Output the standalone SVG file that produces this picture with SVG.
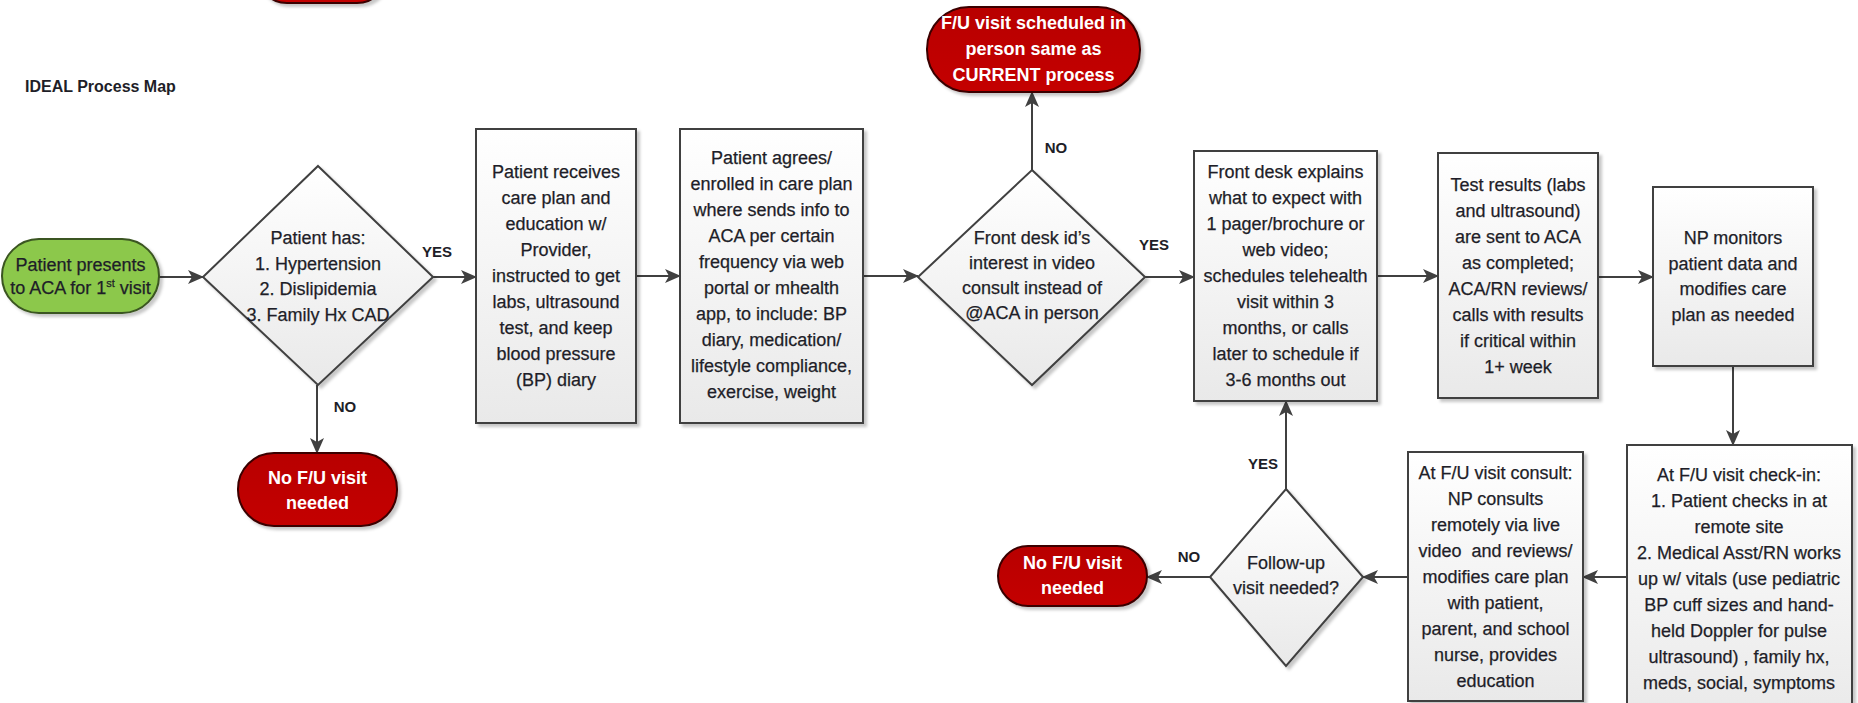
<svg xmlns="http://www.w3.org/2000/svg" width="1858" height="703" viewBox="0 0 1858 703">
<defs>
  <linearGradient id="gBox" x1="0" y1="0" x2="0" y2="1">
    <stop offset="0" stop-color="#ffffff"/>
    <stop offset="1" stop-color="#e9e9e9"/>
  </linearGradient>
  <linearGradient id="gRed" x1="0" y1="0" x2="0" y2="1">
    <stop offset="0" stop-color="#b80000"/>
    <stop offset="1" stop-color="#c40000"/>
  </linearGradient>
  <filter id="sh" x="-10%" y="-10%" width="125%" height="125%">
    <feDropShadow dx="3" dy="3" stdDeviation="1.5" flood-color="#000" flood-opacity="0.22"/>
  </filter>
  <marker id="arr" viewBox="0 0 16 14" refX="15" refY="7" markerWidth="16" markerHeight="14" markerUnits="userSpaceOnUse" orient="auto">
    <path d="M0,0 L16,7 L0,14 L4,7 Z" fill="#404040"/>
  </marker>
  <style>
    .box { fill: url(#gBox); stroke: #404040; stroke-width: 2; filter: url(#sh); }
    .red { fill: url(#gRed); stroke: #3a0000; stroke-width: 2; filter: url(#sh); }
    .green { fill: #8cc84b; stroke: #3a5520; stroke-width: 2; filter: url(#sh); }
    .t { font-family: "Liberation Sans", Arial, sans-serif; font-size: 18px; fill: #1e1e28; stroke: #1e1e28; stroke-width: 0.25; text-anchor: middle; }
    .tw { font-family: "Liberation Sans", Arial, sans-serif; font-size: 18px; font-weight: bold; fill: #ffffff; text-anchor: middle; }
    .lbl { font-family: "Liberation Sans", Arial, sans-serif; font-size: 15px; font-weight: bold; fill: #1e1e28; text-anchor: middle; }
    .title { font-family: "Liberation Sans", Arial, sans-serif; font-size: 16px; font-weight: bold; fill: #1e1e28; }
    .c { fill: none; stroke: #404040; stroke-width: 2; marker-end: url(#arr); }
  </style>
</defs>
<rect width="1858" height="703" fill="#ffffff"/>

<text class="title" x="25" y="92">IDEAL Process Map</text>

<g id="connectors">
  <line class="c" x1="159" y1="277" x2="203" y2="277"/>
  <line class="c" x1="433" y1="277" x2="476" y2="277"/>
  <line class="c" x1="317" y1="385" x2="317" y2="453"/>
  <line class="c" x1="636" y1="276" x2="680" y2="276"/>
  <line class="c" x1="863" y1="276" x2="918" y2="276"/>
  <line class="c" x1="1032" y1="170" x2="1032" y2="92"/>
  <line class="c" x1="1145" y1="277" x2="1194" y2="277"/>
  <line class="c" x1="1377" y1="276" x2="1438" y2="276"/>
  <line class="c" x1="1598" y1="277" x2="1653" y2="277"/>
  <line class="c" x1="1733" y1="366" x2="1733" y2="445"/>
  <line class="c" x1="1627" y1="577" x2="1583" y2="577"/>
  <line class="c" x1="1408" y1="577" x2="1363" y2="577"/>
  <line class="c" x1="1286" y1="489" x2="1286" y2="401"/>
  <line class="c" x1="1210" y1="577" x2="1147" y2="577"/>
  <text class="lbl" x="437" y="257">YES</text>
  <text class="lbl" x="345" y="412">NO</text>
  <text class="lbl" x="1056" y="153">NO</text>
  <text class="lbl" x="1154" y="250">YES</text>
  <text class="lbl" x="1263" y="469">YES</text>
  <text class="lbl" x="1189" y="562">NO</text>
</g>

<g id="top-partial">
  <rect class="red" x="257" y="-60" width="130" height="63" rx="30"/>
</g>

<g id="start">
  <rect class="green" x="2" y="239" width="157" height="74" rx="37"/>
  <text class="t" x="80.5" y="271">Patient presents</text>
  <text class="t" x="80.5" y="294">to ACA for 1<tspan font-size="11" dy="-7">st</tspan><tspan dy="7"> visit</tspan></text>
</g>

<g id="decision1">
  <polygon class="box" points="318,166 433,277 318,385 203,277"/>
  <text class="t" x="318" y="244">Patient has:<tspan x="318" dy="25.7">1. Hypertension</tspan><tspan x="318" dy="25.7">2. Dislipidemia</tspan><tspan x="318" dy="25.7">3. Family Hx CAD</tspan></text>
</g>

<g id="end1">
  <rect class="red" x="238" y="453" width="159" height="73" rx="36"/>
  <text class="tw" x="317.5" y="484">No F/U visit<tspan x="317.5" dy="25">needed</tspan></text>
</g>

<g id="box1">
  <rect class="box" x="476" y="129" width="160" height="294"/>
  <text class="t" x="556" y="178">Patient receives<tspan x="556" dy="26">care plan and</tspan><tspan x="556" dy="26">education w/</tspan><tspan x="556" dy="26">Provider,</tspan><tspan x="556" dy="26">instructed to get</tspan><tspan x="556" dy="26">labs, ultrasound</tspan><tspan x="556" dy="26">test, and keep</tspan><tspan x="556" dy="26">blood pressure</tspan><tspan x="556" dy="26">(BP) diary</tspan></text>
</g>

<g id="box2">
  <rect class="box" x="680" y="129" width="183" height="294"/>
  <text class="t" x="771.5" y="164">Patient agrees/<tspan x="771.5" dy="26">enrolled in care plan</tspan><tspan x="771.5" dy="26">where sends info to</tspan><tspan x="771.5" dy="26">ACA per certain</tspan><tspan x="771.5" dy="26">frequency via web</tspan><tspan x="771.5" dy="26">portal or mhealth</tspan><tspan x="771.5" dy="26">app, to include: BP</tspan><tspan x="771.5" dy="26">diary, medication/</tspan><tspan x="771.5" dy="26">lifestyle compliance,</tspan><tspan x="771.5" dy="26">exercise, weight</tspan></text>
</g>

<g id="decision2">
  <polygon class="box" points="1032,170 1145,277 1032,385 918,277"/>
  <text class="t" x="1032" y="244">Front desk id’s<tspan x="1032" dy="25">interest in video</tspan><tspan x="1032" dy="25">consult instead of</tspan><tspan x="1032" dy="25">@ACA in person</tspan></text>
</g>

<g id="end-top">
  <rect class="red" x="927" y="7" width="213" height="85" rx="42"/>
  <text class="tw" x="1033.5" y="29">F/U visit scheduled in<tspan x="1033.5" dy="26">person same as</tspan><tspan x="1033.5" dy="26">CURRENT process</tspan></text>
</g>

<g id="box3">
  <rect class="box" x="1194" y="151" width="183" height="250"/>
  <text class="t" x="1285.5" y="178">Front desk explains<tspan x="1285.5" dy="26">what to expect with</tspan><tspan x="1285.5" dy="26">1 pager/brochure or</tspan><tspan x="1285.5" dy="26">web video;</tspan><tspan x="1285.5" dy="26">schedules telehealth</tspan><tspan x="1285.5" dy="26">visit within 3</tspan><tspan x="1285.5" dy="26">months, or calls</tspan><tspan x="1285.5" dy="26">later to schedule if</tspan><tspan x="1285.5" dy="26">3-6 months out</tspan></text>
</g>

<g id="box4">
  <rect class="box" x="1438" y="153" width="160" height="245"/>
  <text class="t" x="1518" y="191">Test results (labs<tspan x="1518" dy="26">and ultrasound)</tspan><tspan x="1518" dy="26">are sent to ACA</tspan><tspan x="1518" dy="26">as completed;</tspan><tspan x="1518" dy="26">ACA/RN reviews/</tspan><tspan x="1518" dy="26">calls with results</tspan><tspan x="1518" dy="26">if critical within</tspan><tspan x="1518" dy="26">1+ week</tspan></text>
</g>

<g id="box5">
  <rect class="box" x="1653" y="187" width="160" height="179"/>
  <text class="t" x="1733" y="244">NP monitors<tspan x="1733" dy="25.7">patient data and</tspan><tspan x="1733" dy="25.7">modifies care</tspan><tspan x="1733" dy="25.7">plan as needed</tspan></text>
</g>

<g id="box6">
  <rect class="box" x="1627" y="445" width="225" height="280"/>
  <text class="t" x="1739" y="481">At F/U visit check-in:<tspan x="1739" dy="26">1. Patient checks in at</tspan><tspan x="1739" dy="26">remote site</tspan><tspan x="1739" dy="26">2. Medical Asst/RN works</tspan><tspan x="1739" dy="26">up w/ vitals (use pediatric</tspan><tspan x="1739" dy="26">BP cuff sizes and hand-</tspan><tspan x="1739" dy="26">held Doppler for pulse</tspan><tspan x="1739" dy="26">ultrasound) , family hx,</tspan><tspan x="1739" dy="26">meds, social, symptoms</tspan></text>
</g>

<g id="box7">
  <rect class="box" x="1408" y="452" width="175" height="249"/>
  <text class="t" x="1495.5" y="479" style="white-space:pre">At F/U visit consult:<tspan x="1495.5" dy="26">NP consults</tspan><tspan x="1495.5" dy="26">remotely via live</tspan><tspan x="1495.5" dy="26">video  and reviews/</tspan><tspan x="1495.5" dy="26">modifies care plan</tspan><tspan x="1495.5" dy="26">with patient,</tspan><tspan x="1495.5" dy="26">parent, and school</tspan><tspan x="1495.5" dy="26">nurse, provides</tspan><tspan x="1495.5" dy="26">education</tspan></text>
</g>

<g id="decision3">
  <polygon class="box" points="1286,489 1363,577 1286,666 1210,577"/>
  <text class="t" x="1286" y="569">Follow-up<tspan x="1286" dy="25">visit needed?</tspan></text>
</g>

<g id="end3">
  <rect class="red" x="998" y="546" width="149" height="60" rx="30"/>
  <text class="tw" x="1072.5" y="569">No F/U visit<tspan x="1072.5" dy="25">needed</tspan></text>
</g>
</svg>
